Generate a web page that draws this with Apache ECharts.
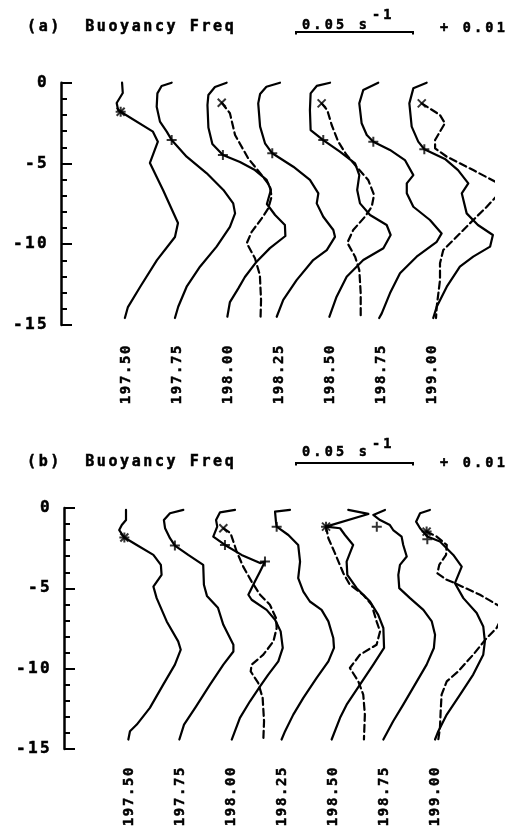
<!DOCTYPE html>
<html><head><meta charset="utf-8">
<script src="https://cdn.jsdelivr.net/npm/echarts@6/dist/echarts.min.js"></script>
<style>html,body{margin:0;padding:0;background:#fff}#c{width:507px;height:836px}</style>
</head><body><div id="c"></div>
<script>
// plotter-style wide lettering: letter spacing keyed by font size
(function(){
  var LS = {'15':2.6,'16':2.4,'14':1.6,'13.5':3.2};
  var proto = CanvasRenderingContext2D.prototype;
  ['fillText','strokeText'].forEach(function(fn){
    var orig = proto[fn];
    proto[fn] = function(t,x,y,m){
      var mm = /(\d+(?:\.\d+)?)px/.exec(this.font || '');
      var s = mm ? (LS[String(parseFloat(mm[1]))] || 0) : 0;
      try { this.letterSpacing = s + 'px'; } catch(e) {}
      return m === undefined ? orig.call(this,t,x,y) : orig.call(this,t,x,y,m);
    };
  });
})();

// ---------------- data ----------------
const DAYS = [197.50, 197.75, 198.00, 198.25, 198.50, 198.75, 199.00];
const DEPTH_MIN = -15, DEPTH_MAX = 0, DEPTH_STEP = 5;
const N_REF = 10;            // buoyancy freq (10^-3 s^-1) plotted at the day position
const SCALE_N = 50;          // scale bar: 0.05 s^-1
// profiles: [N (10^-3 s^-1), depth]
// ---- panel (a) ----
const a_19750 = [[8.2,0],[8.5,-0.64],[5.9,-1.26],[6.5,-1.69],[7.6,-1.8],[21.4,-3.03],[23.5,-3.65],[20.1,-4.97],[25.7,-6.64],[32.1,-8.69],[30.8,-9.55],[23.1,-10.98],[15.9,-12.65],[10.7,-13.89],[9.4,-14.57]];
const a_19775 = [[7.6,0],[3.3,-0.2],[1.5,-0.66],[1.2,-1.49],[2.6,-2.41],[5.5,-3.03],[7.6,-3.55],[14.0,-4.58],[22.6,-5.61],[29.7,-6.64],[33.9,-7.47],[34.7,-8.09],[32.5,-8.92],[26.8,-10.15],[19.7,-11.39],[14.0,-12.63],[10.4,-13.87],[9.0,-14.57]];
const a_19800 = [[9.3,0],[4.3,-0.27],[1.5,-0.76],[1.1,-1.38],[1.5,-2.77],[3.2,-3.8],[7.7,-4.48],[15.0,-4.91],[21.4,-5.41],[26.4,-6.02],[28.2,-6.64],[26.5,-7.51],[30.0,-8.19],[34.2,-8.81],[34.4,-9.49],[27.8,-10.24],[22.1,-11.08],[17.1,-12.03],[14.3,-12.73],[10.7,-13.58],[9.6,-14.49]];
const a_19825 = [[10.3,0],[4.5,-0.25],[1.8,-0.7],[1.0,-1.28],[1.8,-2.72],[3.9,-3.75],[7.0,-4.37],[16.0,-5.2],[23.1,-6.02],[26.7,-6.85],[26.0,-7.47],[28.8,-8.3],[33.1,-9.12],[33.8,-9.54],[30.3,-10.36],[24.5,-10.98],[17.4,-12.22],[11.7,-13.45],[8.9,-14.49]];
const a_19850 = [[9.9,0],[4.2,-0.2],[1.6,-0.66],[1.3,-1.69],[1.6,-2.93],[7.0,-3.55],[14.1,-4.27],[20.6,-4.99],[22.4,-5.72],[21.5,-6.64],[22.7,-7.47],[27.0,-8.19],[34.1,-8.81],[35.8,-9.43],[32.7,-10.25],[24.1,-10.98],[17.0,-12.01],[12.7,-13.25],[9.6,-14.49]];
const a_19875 = [[8.7,0],[2.3,-0.45],[0.6,-1.28],[1.6,-2.51],[3.8,-3.24],[6.6,-3.65],[13.7,-4.16],[20.1,-4.79],[23.7,-5.72],[20.9,-6.23],[20.9,-6.85],[23.7,-7.68],[30.8,-8.5],[35.8,-9.33],[33.7,-9.85],[25.1,-10.77],[18.0,-11.8],[13.7,-13.04],[10.2,-14.28],[9.1,-14.57]];
const a_19900 = [[7.6,0],[1.9,-0.35],[0.2,-1.28],[1.2,-2.72],[4.0,-3.65],[6.6,-4.12],[15.4,-4.72],[21.0,-5.41],[25.4,-6.23],[22.6,-6.85],[24.7,-8.09],[29.5,-8.81],[35.9,-9.43],[34.7,-10.15],[27.5,-10.77],[21.8,-11.39],[16.2,-12.63],[11.9,-13.87],[10.4,-14.57]];
const a_19800_d = [[7.2,-1.24],[10.7,-1.89],[12.9,-3.24],[18.5,-4.68],[24.3,-5.72],[27.8,-6.4],[28.5,-7.06],[27.1,-7.78],[24.3,-8.4],[20.0,-9.23],[17.9,-9.94],[21.4,-10.87],[23.5,-11.91],[24.0,-13.46],[23.8,-14.49]];
const a_19850_d = [[6.3,-1.28],[8.7,-1.69],[10.6,-2.62],[13.4,-3.65],[17.0,-4.48],[20.6,-5.1],[26.2,-6.02],[28.7,-6.95],[27.7,-7.68],[24.8,-8.3],[19.8,-9.12],[17.3,-9.91],[20.6,-10.77],[22.4,-11.6],[23.0,-13.04],[23.0,-14.49]];
const a_19900_d = [[5.5,-1.28],[13.3,-2.0],[15.4,-2.51],[13.3,-3.03],[11.2,-3.55],[11.2,-4.06],[16.2,-4.58],[27.5,-5.41],[38.2,-6.23],[38.6,-6.85],[33.3,-7.68],[27.5,-8.5],[20.4,-9.54],[14.7,-10.36],[13.3,-11.18],[13.3,-12.22],[12.6,-13.04],[11.9,-13.87],[11.6,-14.57]];
// markers: [column, N, depth]
const a_plus  = [[0,7.6,-1.8],[1,7.6,-3.55],[2,7.7,-4.48],[3,7.0,-4.37],[4,7.0,-3.55],[5,6.6,-3.65],[6,6.6,-4.12]];
const a_cross = [[0,7.6,-1.8],[2,7.2,-1.24],[4,6.3,-1.28],[6,5.5,-1.28]];
// ---- panel (b) ----
const b_19750 = [[8.6,-0.12],[8.6,-0.75],[6.8,-1.06],[5.7,-1.37],[7.9,-1.84],[13.2,-2.3],[20.3,-2.92],[23.5,-3.54],[23.8,-4.16],[20.3,-4.89],[21.7,-5.61],[26.0,-7.06],[30.9,-8.3],[32.0,-8.82],[29.5,-9.75],[24.5,-10.99],[18.8,-12.44],[13.2,-13.48],[10.3,-13.89],[9.6,-14.41]];
const b_19775 = [[11.3,-0.12],[5.6,-0.33],[3.0,-0.75],[3.5,-1.26],[5.6,-1.88],[7.7,-2.34],[13.4,-2.92],[19.8,-3.54],[20.1,-4.78],[21.4,-5.47],[26.1,-6.21],[28.4,-7.27],[32.7,-8.51],[32.7,-8.93],[28.4,-9.75],[22.7,-10.99],[16.7,-12.36],[11.6,-13.48],[9.6,-14.41]];
const b_19800 = [[11.6,-0.12],[5.2,-0.27],[3.5,-0.75],[4.0,-1.16],[2.3,-1.78],[7.3,-2.3],[14.4,-2.92],[22.3,-3.43],[24.4,-3.33],[22.3,-3.95],[20.1,-4.58],[17.3,-5.4],[18.7,-5.71],[25.1,-6.34],[28.7,-6.96],[31.1,-7.68],[32.0,-8.71],[30.1,-9.55],[25.8,-10.37],[22.3,-11.1],[18.0,-12.03],[13.7,-13.06],[10.2,-14.41]];
const b_19825 = [[13.3,-0.12],[6.9,-0.23],[7.3,-0.85],[7.6,-1.16],[12.6,-1.68],[16.8,-2.3],[17.6,-3.34],[16.8,-4.37],[19.0,-5.2],[21.8,-5.82],[26.8,-6.34],[29.7,-7.06],[31.8,-8.09],[32.1,-8.71],[29.7,-9.55],[24.7,-10.58],[19.0,-11.82],[14.7,-12.86],[11.2,-13.89],[9.7,-14.41]];
const b_19850 = [[16.4,-0.12],[25.0,-0.37],[6.9,-1.16],[12.9,-1.26],[15.0,-1.68],[18.5,-2.3],[17.1,-2.81],[15.7,-3.34],[16.0,-4.16],[20.0,-4.99],[25.7,-5.82],[29.2,-6.65],[31.4,-7.47],[31.7,-8.71],[27.1,-9.75],[21.4,-10.99],[15.7,-12.24],[12.9,-13.06],[9.3,-14.41]];
const b_19875 = [[10.3,-0.12],[5.3,-0.43],[8.2,-0.75],[12.4,-1.06],[13.8,-1.37],[17.4,-1.78],[18.1,-2.3],[19.6,-3.02],[16.7,-3.54],[16.0,-4.16],[16.4,-4.99],[21.0,-5.61],[26.7,-6.34],[30.3,-7.06],[31.7,-7.89],[31.2,-8.71],[28.1,-9.75],[23.1,-10.99],[18.1,-12.24],[13.8,-13.27],[9.6,-14.41]];
const b_19900 = [[7.7,-0.12],[3.5,-0.33],[1.8,-0.85],[3.5,-1.26],[6.6,-1.78],[12.0,-2.09],[17.7,-2.92],[21.3,-3.65],[18.4,-4.68],[22.0,-5.61],[27.7,-6.54],[30.5,-7.37],[31.2,-8.3],[30.5,-9.13],[26.2,-10.37],[20.6,-11.61],[14.9,-12.86],[11.3,-13.89],[9.9,-14.41]];
const b_19800_d = [[6.6,-1.26],[9.7,-1.57],[12.3,-2.71],[15.1,-3.65],[18.7,-4.58],[22.3,-5.4],[26.5,-6.02],[29.1,-6.85],[29.4,-7.47],[28.0,-8.3],[23.7,-9.13],[18.7,-9.75],[18.3,-10.17],[21.5,-10.89],[23.4,-11.82],[24.0,-13.27],[23.7,-14.41]];
const b_19850_d = [[6.9,-1.16],[7.9,-1.88],[10.7,-2.81],[14.3,-4.06],[17.1,-4.78],[22.8,-5.4],[26.4,-6.02],[28.5,-7.06],[30.0,-7.68],[28.5,-8.51],[21.4,-9.13],[17.1,-9.96],[20.7,-10.79],[22.8,-11.61],[23.5,-12.86],[23.1,-14.41]];
const b_19900_d = [[6.3,-1.47],[10.6,-1.78],[14.9,-2.3],[14.6,-2.92],[11.7,-3.54],[10.9,-4.06],[14.9,-4.47],[18.4,-4.68],[29.1,-5.4],[37.7,-6.13],[39.1,-6.65],[36.2,-7.47],[32.0,-8.09],[26.2,-9.13],[19.8,-10.17],[14.9,-10.79],[12.7,-11.61],[12.3,-12.65],[12.0,-13.68],[11.3,-14.41]];
const b_plus  = [[0,7.9,-1.84],[1,7.7,-2.34],[2,7.3,-2.3],[2,24.4,-3.33],[3,7.6,-1.16],[4,6.9,-1.16],[5,6.8,-1.16],[6,6.3,-1.47],[6,6.6,-1.95]];
const b_cross = [[0,7.9,-1.84],[2,6.6,-1.26],[4,6.9,-1.16],[6,6.3,-1.47]];

const A_SOLID = [a_19750,a_19775,a_19800,a_19825,a_19850,a_19875,a_19900];
const A_DASHED = [[2,a_19800_d],[4,a_19850_d],[6,a_19900_d]];
const B_SOLID = [b_19750,b_19775,b_19800,b_19825,b_19850,b_19875,b_19900];
const B_DASHED = [[2,b_19800_d],[4,b_19850_d],[6,b_19900_d]];

// ---------------- chart ----------------
const X_MIN = 197.18, X_MAX = 199.30;
const PX_PER_DAY = 204;
const SCALE_PX = 117;                       // length of 0.05 s^-1 bar
const K = (SCALE_PX / PX_PER_DAY) / SCALE_N; // days per 10^-3 s^-1
const FONT = '"DejaVu Sans Mono"';
const toXY = (col, n, d) => [DAYS[col] + (n - N_REF) * K, d];

const chart = echarts.init(document.getElementById('c'), null, {renderer:'canvas'});

function lineSeries(g, col, pts, dashed){
  return {type:'line', xAxisIndex:g, yAxisIndex:g, data: pts.map(p => toXY(col, p[0], p[1])),
    symbol:'none', showSymbol:false, clip:false, silent:true, animation:false,
    lineStyle:{color:'#000', width:2.2, type: dashed ? [7,4] : 'solid', cap:'round', join:'round'}};
}
const PLUS = 'path://M0,5L10,5M5,0L5,10';
const CROSS = 'path://M0,0L10,10M10,0L0,10';
function markSeries(g, arr, sym, size){
  return {type:'scatter', xAxisIndex:g, yAxisIndex:g, symbol:sym, symbolSize:size, silent:true, animation:false, clip:false,
    itemStyle:{color:'rgba(0,0,0,0)', borderColor:'#000', borderWidth:2},
    data: arr.map(m => toXY(m[0], m[1], m[2]))};
}

const series = [];
A_SOLID.forEach((p,i) => series.push(lineSeries(0, i, p, false)));
A_DASHED.forEach(([i,p]) => series.push(lineSeries(0, i, p, true)));
B_SOLID.forEach((p,i) => series.push(lineSeries(1, i, p, false)));
B_DASHED.forEach(([i,p]) => series.push(lineSeries(1, i, p, true)));
series.push(markSeries(0, a_plus, PLUS, 10), markSeries(0, a_cross, CROSS, 8));
series.push(markSeries(1, b_plus, PLUS, 10), markSeries(1, b_cross, CROSS, 8));

const W = (X_MAX - X_MIN) * PX_PER_DAY;
function xAx(g, margin){
  return {gridIndex:g, type:'value', min:X_MIN, max:X_MAX,
    axisLine:{show:false}, axisTick:{show:false}, splitLine:{show:false},
    axisLabel:{customValues: DAYS, rotate:90, margin:margin, color:'#000', fontFamily:FONT, fontWeight:'bold', fontSize:14,
      textBorderColor:'#000', textBorderWidth:0.5,
      formatter: v => Number(v).toFixed(2)}};
}
function yAx(g){
  return {gridIndex:g, type:'value', min:DEPTH_MIN, max:DEPTH_MAX, interval:DEPTH_STEP,
    axisLine:{show:true, lineStyle:{color:'#000', width:2.5}},
    axisTick:{show:true, inside:true, length:11, lineStyle:{color:'#000', width:2}},
    minorTick:{show:true, splitNumber:5, length:6, lineStyle:{color:'#000', width:2}},
    splitLine:{show:false}, minorSplitLine:{show:false},
    axisLabel:{margin:12, color:'#000', fontFamily:FONT, fontWeight:'bold', fontSize:16,
      textBorderColor:'#000', textBorderWidth:0.5}};
}

function txt(text, x, y, size, align){
  return {type:'text', silent:true, style:{text:text, x:x, y:y, fill:'#000', stroke:'#000', lineWidth:0.5,
    align: align||'left', verticalAlign:'middle', font:'bold ' + size + 'px ' + FONT}};
}
function header(label, yTitle, ySc, ySup, yBar, yPlus){
  return [
    txt(label + '  Buoyancy Freq', 27, yTitle, 15),
    txt('0.05 s', 302, ySc, 13.5),
    txt('-1', 372, ySup, 13.5),
    {type:'polyline', silent:true, shape:{points:[[296,yBar+2.5],[296,yBar],[296+SCALE_PX,yBar],[296+SCALE_PX,yBar+2.5]]}, style:{stroke:'#000', lineWidth:2, fill:null}},
    txt('+ 0.01', 440, yPlus, 13.5)
  ];
}

chart.setOption({
  backgroundColor:'#fff',
  animation:false,
  grid:[{left:61, top:82.7, width:W, height:242.3}, {left:64, top:508, width:W, height:241}],
  xAxis:[xAx(0,19), xAx(1,17)],
  yAxis:[yAx(0), yAx(1)],
  graphic: header('(a)', 27.5, 25, 15, 32, 28).concat(header('(b)', 462, 452, 444, 463, 463)),
  series: series
});
</script></body></html>
